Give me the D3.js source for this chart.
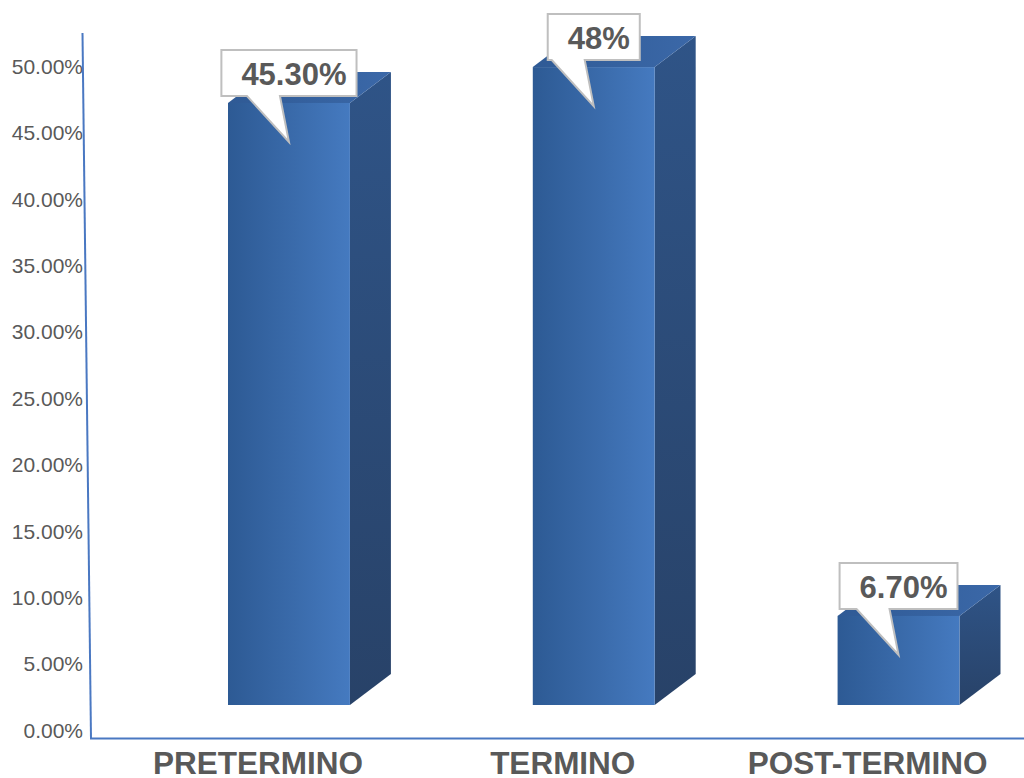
<!DOCTYPE html>
<html>
<head>
<meta charset="utf-8">
<script src="https://cdn.jsdelivr.net/npm/d3@7"></script>
<style>
  html, body { margin: 0; padding: 0; background: #ffffff; }
  svg { display: block; }
</style>
</head>
<body>
<svg id="chart" width="1024" height="778"></svg>
<script>
const categories = ["PRETERMINO", "TERMINO", "POST-TERMINO"];
const values = [0.453, 0.48, 0.067];
const valueLabels = ["45.30%", "48%", "6.70%"];
const tickValues = [0, 0.05, 0.10, 0.15, 0.20, 0.25, 0.30, 0.35, 0.40, 0.45, 0.50];

const svg = d3.select("#chart");
const defs = svg.append("defs");

const yTick = d3.scaleLinear().domain([0, 0.5]).range([730, 66.5]);
const yBar = d3.scaleLinear().domain([0, 0.5]).range([705, 40.5]);
const x = d3.scaleBand().domain(categories).range([228, 959.5]).paddingInner(0.6).paddingOuter(0);
const depthX = 41, depthY = -31;

// gradients
const gFront = defs.append("linearGradient").attr("id", "gFront").attr("x1", "0").attr("x2", "1").attr("y1", "0").attr("y2", "0");
gFront.append("stop").attr("offset", "0").attr("stop-color", "#2d5a94");
gFront.append("stop").attr("offset", "0.55").attr("stop-color", "#3a6bab");
gFront.append("stop").attr("offset", "1").attr("stop-color", "#457ac0");
const gSide = defs.append("linearGradient").attr("id", "gSide").attr("x1", "0").attr("x2", "0").attr("y1", "0").attr("y2", "1");
gSide.append("stop").attr("offset", "0").attr("stop-color", "#2f5487");
gSide.append("stop").attr("offset", "1").attr("stop-color", "#284268");
const gTop = defs.append("linearGradient").attr("id", "gTop").attr("x1", "0").attr("x2", "1").attr("y1", "0").attr("y2", "0");
gTop.append("stop").attr("offset", "0").attr("stop-color", "#2f5a95");
gTop.append("stop").attr("offset", "1").attr("stop-color", "#3b68a8");

// tick labels
svg.append("g").selectAll("text").data(tickValues).join("text")
  .attr("x", 83).attr("y", d => yTick(d)).attr("dy", "0.36em")
  .attr("text-anchor", "end")
  .attr("font-family", "Liberation Sans, Arial, sans-serif")
  .attr("font-size", 21).attr("fill", "#595959")
  .text(d => d3.format(".2%")(d));

// axis lines
svg.append("line").attr("x1", 82.5).attr("y1", 33).attr("x2", 91).attr("y2", 739)
  .attr("stroke", "#4a78c2").attr("stroke-width", 2);
svg.append("line").attr("x1", 90).attr("y1", 738.5).attr("x2", 1024).attr("y2", 738.5)
  .attr("stroke", "#4a78c2").attr("stroke-width", 2);

const data = categories.map((c, i) => ({ c, v: values[i], label: valueLabels[i] }));
const bars = svg.append("g").selectAll("g").data(data).join("g");

bars.each(function(d) {
  const g = d3.select(this);
  const x0 = x(d.c), x1 = x(d.c) + x.bandwidth();
  const yt = yBar(d.v), yb = yBar(0);
  g.append("path")
    .attr("d", `M${x1},${yt} L${x1 + depthX},${yt + depthY} L${x1 + depthX},${yb + depthY} L${x1},${yb} Z`)
    .attr("fill", "url(#gSide)");
  g.append("path")
    .attr("d", `M${x0},${yt} L${x0 + depthX},${yt + depthY} L${x1 + depthX},${yt + depthY} L${x1},${yt} Z`)
    .attr("fill", "url(#gTop)");
  g.append("rect").attr("x", x0).attr("y", yt).attr("width", x1 - x0).attr("height", yb - yt)
    .attr("fill", "url(#gFront)");
});

// data label callouts
bars.each(function(d) {
  const g = d3.select(this);
  const cx = x(d.c) + x.bandwidth() / 2;
  const yt = yBar(d.v);
  const t = g.append("text")
    .attr("font-family", "Liberation Sans, Arial, sans-serif")
    .attr("font-weight", "bold").attr("font-size", 31)
    .attr("fill", "#595959").attr("text-anchor", "middle")
    .text(d.label);
  const w = t.node().getComputedTextLength() + 30;
  const boxBottom = yt - 7, boxTop = boxBottom - 46;
  const left = cx - w / 2, right = cx + w / 2;
  const tipX = cx, tipY = yt + 39;
  const b1 = cx - 42, b2 = cx - 9;
  g.insert("path", "text")
    .attr("d", `M${left},${boxTop} L${right},${boxTop} L${right},${boxBottom} L${b2},${boxBottom} L${tipX},${tipY} L${b1},${boxBottom} L${left},${boxBottom} Z`)
    .attr("fill", "#ffffff").attr("stroke", "#bfbfbf").attr("stroke-width", 2)
    .attr("stroke-linejoin", "miter");
  t.attr("x", cx + 5).attr("y", boxTop + 35);
});

// category labels
svg.append("g").selectAll("text").data(categories).join("text")
  .attr("x", d => x(d) + x.bandwidth() / 2 - 31)
  .attr("y", 774)
  .attr("text-anchor", "middle")
  .attr("font-family", "Liberation Sans, Arial, sans-serif")
  .attr("font-weight", "bold").attr("font-size", 31.5)
  .attr("fill", "#595959")
  .text(d => d);
</script>
</body>
</html>
